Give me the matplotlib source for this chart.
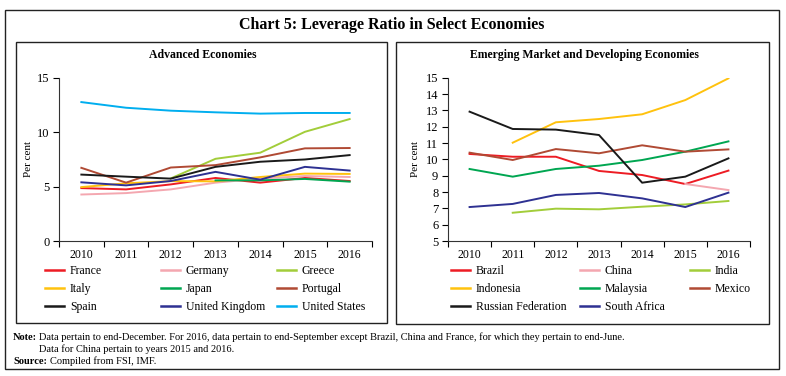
import numpy as np
import matplotlib
matplotlib.use("Agg")
import matplotlib.pyplot as plt
from matplotlib.patches import Rectangle

plt.rcParams["font.family"] = ["Liberation Serif", "DejaVu Serif"]

nan = np.nan
years = ["2010", "2011", "2012", "2013", "2014", "2015", "2016"]

# Advanced economies (per cent)
france = [4.86, 4.74, 5.2, 5.79, 5.36, 5.79, 5.51]
germany = [4.27, 4.4, 4.74, 5.36, 5.73, 5.97, 5.88]
greece = [nan, nan, 5.75, 7.55, 8.11, 10.03, 11.2]
italy = [4.95, 5.3, 5.5, 5.48, 5.88, 6.19, 6.16]
japan = [nan, nan, nan, 5.57, 5.57, 5.7, 5.45]
portugal = [6.72, 5.36, 6.75, 6.97, 7.68, 8.51, 8.54]
spain = [6.1, 5.91, 5.73, 6.81, 7.28, 7.49, 7.89]
uk = [5.39, 5.11, 5.51, 6.35, 5.63, 6.81, 6.47]
us = [12.76, 12.24, 11.97, 11.82, 11.7, 11.76, 11.76]

# Emerging market and developing economies (per cent)
brazil = [10.33, 10.16, 10.16, 9.29, 9.04, 8.49, 9.31]
china = [nan, nan, nan, nan, nan, 8.49, 8.12]
india = [nan, 6.73, 6.98, 6.94, 7.1, 7.24, 7.45]
indonesia = [nan, 11.02, 12.27, 12.47, 12.76, 13.63, 14.96]
malaysia = [9.41, 8.94, 9.41, 9.61, 9.96, 10.47, 11.1]
mexico = [10.41, 9.96, 10.63, 10.37, 10.86, 10.47, 10.61]
russia = [12.92, 11.86, 11.82, 11.49, 8.57, 8.94, 10.06]
south_africa = [7.08, 7.27, 7.82, 7.94, 7.61, 7.08, 7.96]

RED, PINK, LIME, GOLD = "#ED1C24", "#F4A7B0", "#A2CD3A", "#FFC20E"
GREEN, BROWN, BLACK, NAVY, SKY = "#00A651", "#B04A34", "#1A1A1A", "#2E3192", "#00AEEF"

adv = [("France", france, RED), ("Germany", germany, PINK), ("Greece", greece, LIME),
       ("Italy", italy, GOLD), ("Japan", japan, GREEN), ("Portugal", portugal, BROWN),
       ("Spain", spain, BLACK), ("United Kingdom", uk, NAVY), ("United States", us, SKY)]
eme = [("Brazil", brazil, RED), ("China", china, PINK), ("India", india, LIME),
       ("Indonesia", indonesia, GOLD), ("Malaysia", malaysia, GREEN), ("Mexico", mexico, BROWN),
       ("Russian Federation", russia, BLACK), ("South Africa", south_africa, NAVY)]

W, H = 786, 376
fig = plt.figure(figsize=(W / 100, H / 100), dpi=100)


def fx(px):
    return px / W


def fy(py):
    return 1 - py / H


# frames
def box(x0, y0, x1, y1):
    fig.patches.append(Rectangle((fx(x0), fy(y1)), fx(x1 - x0), (y1 - y0) / H,
                                 transform=fig.transFigure, fill=False,
                                 edgecolor="#222222", linewidth=1.0))


box(5, 10, 779, 369)
box(16, 42, 387, 323)
box(396, 42, 769, 324)

fig.text(fx(392), fy(25), "Chart 5: Leverage Ratio in Select Economies",
         ha="center", va="center", fontsize=11.5, fontweight="bold")


def make_panel(left, right, series, ylim, yticks, title, title_x, ylab_x, leg_cols):
    ax = fig.add_axes([fx(left), fy(241), fx(right - left), (241 - 77.7) / H])
    x = np.arange(len(years))
    for name, vals, col in series:
        ax.plot(x, vals, color=col, linewidth=1.4, label=name)
    ax.set_xlim(-0.5, len(years) - 0.5)
    ax.set_ylim(*ylim)
    ax.set_yticks(yticks)
    ax.set_xticks(x)
    ax.set_xticklabels(years)
    ax.set_xticks(np.arange(-0.5, len(years)), minor=True)
    ax.tick_params(axis="x", which="major", length=0, labelsize=8.5, pad=6)
    ax.tick_params(axis="x", which="minor", length=4, direction="out", width=0.8)
    ax.tick_params(axis="y", length=4, direction="out", width=0.8, labelsize=9, pad=3)
    for s in ("top", "right"):
        ax.spines[s].set_visible(False)
    for s in ("left", "bottom"):
        ax.spines[s].set_color("#333333")
        ax.spines[s].set_linewidth(0.8)
    ax.set_ylabel("Per cent", fontsize=8)
    ax.yaxis.set_label_coords((ylab_x - left) / (right - left), 0.5)
    fig.text(fx(title_x), fy(55), title, ha="center", va="center",
             fontsize=8.5, fontweight="bold")

    handles, labels = ax.get_legend_handles_labels()
    for j, cx in enumerate(leg_cols):
        hs = handles[j::3]
        ls = labels[j::3]
        leg = fig.legend(hs, ls, loc="upper left",
                         bbox_to_anchor=(fx(cx), fy(265)), frameon=False,
                         fontsize=8.5, handlelength=1.6, handletextpad=0.5,
                         labelspacing=0.5, borderpad=0, borderaxespad=0)
        for ln in leg.get_lines():
            ln.set_linewidth(1.8)
    return ax


make_panel(59, 372, adv, (0, 15), [0, 5, 10, 15], "Advanced Economies", 203, 33,
           [45, 161, 277])
make_panel(448, 750, eme, (5, 15), list(range(5, 16)),
           "Emerging Market and Developing Economies", 584, 420, [451, 580, 690])

NOTE_FS = 7.5
fig.text(fx(13), fy(337), "Note:", fontsize=NOTE_FS, fontweight="bold", va="center")
fig.text(fx(39), fy(337),
         "Data pertain to end-December. For 2016, data pertain to end-September except "
         "Brazil, China and France, for which they pertain to end-June.",
         fontsize=NOTE_FS, va="center")
fig.text(fx(39), fy(349), "Data for China pertain to years 2015 and 2016.",
         fontsize=NOTE_FS, va="center")
fig.text(fx(13), fy(361), "Source:", fontsize=NOTE_FS, fontweight="bold", va="center")
fig.text(fx(50), fy(361), "Compiled from FSI, IMF.", fontsize=NOTE_FS, va="center")

fig.savefig("out.png", dpi=100)
